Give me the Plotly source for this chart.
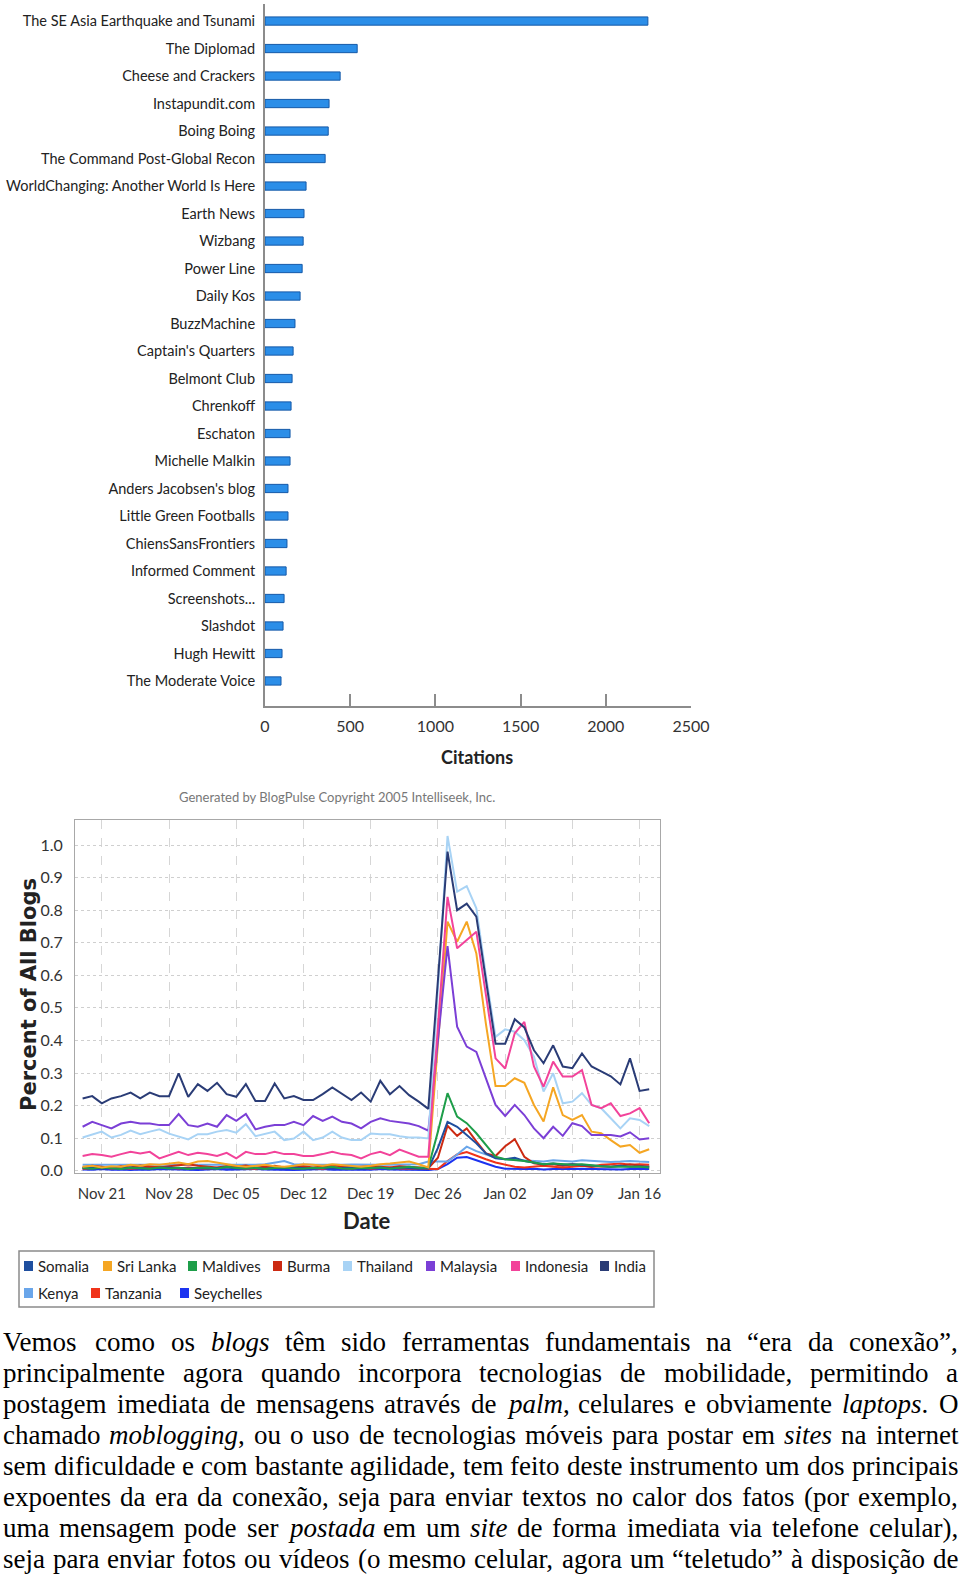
import unicodedata
import pandas as pd
import plotly.graph_objects as go

W, H = 960, 1574


def px(x):
    return x / W


def py(y):
    return 1 - y / H


NARROW = "Lato, Roboto, sans-serif"
SERIF = "Liberation Serif, Times New Roman, serif"

# ---------------- bar chart data ----------------
blogs = [
    "The SE Asia Earthquake and Tsunami", "The Diplomad", "Cheese and Crackers",
    "Instapundit.com", "Boing Boing", "The Command Post-Global Recon",
    "WorldChanging: Another World Is Here", "Earth News", "Wizbang", "Power Line",
    "Daily Kos", "BuzzMachine", "Captain's Quarters", "Belmont Club", "Chrenkoff",
    "Eschaton", "Michelle Malkin", "Anders Jacobsen's blog", "Little Green Footballs",
    "ChiensSansFrontiers", "Informed Comment", "Screenshots...", "Slashdot",
    "Hugh Hewitt", "The Moderate Voice",
]
citations = [2247, 541, 441, 376, 371, 353, 241, 229, 224, 218, 206, 176, 165,
             159, 153, 147, 147, 135, 135, 129, 124, 112, 106, 100, 94]
citation_ticks = [0, 500, 1000, 1500, 2000, 2500]

# ---------------- line chart data ----------------
dates = pd.date_range("2004-11-19", periods=60, freq="D")
date_ticks = pd.date_range("2004-11-21", periods=9, freq="7D")
pct_ticks = [0.0, 0.1, 0.2, 0.3, 0.4, 0.5, 0.6, 0.7, 0.8, 0.9, 1.0]

somalia = [0.008, 0.010, 0.006, 0.009, 0.007, 0.010, 0.008, 0.006, 0.009, 0.010,
           0.008, 0.007, 0.009, 0.006, 0.008, 0.010, 0.007, 0.009, 0.008, 0.006,
           0.009, 0.007, 0.010, 0.008, 0.006, 0.009, 0.007, 0.008, 0.010, 0.006,
           0.008, 0.009, 0.007, 0.010, 0.008, 0.006, 0.007, 0.070, 0.150, 0.135,
           0.110, 0.084, 0.053, 0.038, 0.035, 0.040, 0.030, 0.025, 0.020, 0.022,
           0.018, 0.020, 0.018, 0.015, 0.015, 0.012, 0.015, 0.012, 0.013, 0.012]
sri_lanka = [0.012, 0.015, 0.010, 0.014, 0.012, 0.018, 0.015, 0.020, 0.018, 0.022,
             0.025, 0.020, 0.028, 0.030, 0.025, 0.018, 0.015, 0.012, 0.015, 0.018,
             0.014, 0.012, 0.015, 0.020, 0.018, 0.015, 0.020, 0.018, 0.015, 0.012,
             0.015, 0.020, 0.022, 0.025, 0.028, 0.020, 0.010, 0.390, 0.765, 0.703,
             0.765, 0.667, 0.450, 0.260, 0.260, 0.284, 0.270, 0.202, 0.151, 0.256,
             0.171, 0.156, 0.171, 0.120, 0.115, 0.094, 0.074, 0.079, 0.055, 0.066]
maldives = [0.008, 0.006, 0.010, 0.007, 0.005, 0.009, 0.008, 0.006, 0.010, 0.007,
            0.009, 0.005, 0.008, 0.010, 0.006, 0.012, 0.008, 0.007, 0.009, 0.005,
            0.008, 0.010, 0.007, 0.006, 0.009, 0.008, 0.012, 0.007, 0.006, 0.009,
            0.008, 0.010, 0.006, 0.008, 0.012, 0.009, 0.010, 0.120, 0.238, 0.166,
            0.146, 0.115, 0.079, 0.043, 0.035, 0.033, 0.030, 0.025, 0.020, 0.022,
            0.020, 0.018, 0.020, 0.016, 0.014, 0.012, 0.012, 0.014, 0.012, 0.010]
burma = [0.010, 0.015, 0.012, 0.008, 0.014, 0.010, 0.016, 0.012, 0.010, 0.014,
         0.018, 0.020, 0.015, 0.012, 0.010, 0.014, 0.012, 0.016, 0.010, 0.012,
         0.015, 0.010, 0.012, 0.014, 0.010, 0.012, 0.016, 0.014, 0.010, 0.012,
         0.014, 0.012, 0.010, 0.014, 0.012, 0.010, 0.008, 0.040, 0.138, 0.107,
         0.130, 0.090, 0.053, 0.045, 0.075, 0.097, 0.043, 0.023, 0.018, 0.020,
         0.015, 0.020, 0.015, 0.012, 0.014, 0.012, 0.015, 0.020, 0.015, 0.012]
thailand = [0.102, 0.110, 0.120, 0.102, 0.110, 0.123, 0.112, 0.120, 0.127, 0.114,
            0.106, 0.096, 0.112, 0.112, 0.120, 0.125, 0.117, 0.143, 0.106, 0.112,
            0.120, 0.094, 0.099, 0.120, 0.094, 0.102, 0.120, 0.102, 0.094, 0.094,
            0.114, 0.112, 0.112, 0.106, 0.102, 0.102, 0.099, 0.560, 1.028, 0.857,
            0.874, 0.806, 0.600, 0.411, 0.434, 0.427, 0.401, 0.350, 0.243, 0.299,
            0.207, 0.212, 0.238, 0.202, 0.192, 0.161, 0.130, 0.161, 0.156, 0.137]
malaysia = [0.135, 0.150, 0.140, 0.130, 0.145, 0.150, 0.145, 0.145, 0.140, 0.140,
            0.174, 0.140, 0.135, 0.145, 0.135, 0.171, 0.153, 0.174, 0.127, 0.135,
            0.140, 0.140, 0.150, 0.140, 0.168, 0.153, 0.166, 0.150, 0.145, 0.130,
            0.150, 0.161, 0.153, 0.150, 0.145, 0.137, 0.123, 0.400, 0.690, 0.442,
            0.381, 0.365, 0.280, 0.202, 0.168, 0.202, 0.171, 0.130, 0.100, 0.135,
            0.107, 0.146, 0.137, 0.110, 0.110, 0.110, 0.105, 0.118, 0.096, 0.100]
indonesia = [0.045, 0.051, 0.048, 0.043, 0.051, 0.058, 0.053, 0.058, 0.038, 0.048,
             0.058, 0.048, 0.055, 0.051, 0.045, 0.055, 0.038, 0.058, 0.051, 0.051,
             0.058, 0.051, 0.051, 0.045, 0.045, 0.051, 0.058, 0.051, 0.048, 0.038,
             0.051, 0.058, 0.048, 0.065, 0.055, 0.043, 0.043, 0.440, 0.841, 0.683,
             0.708, 0.734, 0.540, 0.345, 0.314, 0.422, 0.457, 0.320, 0.258, 0.335,
             0.289, 0.289, 0.309, 0.202, 0.192, 0.207, 0.168, 0.176, 0.192, 0.146]
india = [0.222, 0.229, 0.207, 0.222, 0.229, 0.240, 0.222, 0.240, 0.229, 0.229,
         0.299, 0.227, 0.266, 0.245, 0.270, 0.235, 0.227, 0.266, 0.214, 0.214,
         0.268, 0.222, 0.229, 0.217, 0.217, 0.235, 0.256, 0.237, 0.217, 0.240,
         0.212, 0.276, 0.235, 0.260, 0.232, 0.212, 0.190, 0.585, 0.980, 0.800,
         0.820, 0.780, 0.585, 0.390, 0.390, 0.465, 0.440, 0.370, 0.330, 0.385,
         0.320, 0.315, 0.360, 0.320, 0.305, 0.290, 0.265, 0.345, 0.245, 0.250]
kenya = [0.018, 0.018, 0.019, 0.018, 0.018, 0.017, 0.018, 0.018, 0.019, 0.018,
         0.018, 0.018, 0.017, 0.018, 0.018, 0.019, 0.018, 0.018, 0.018, 0.020,
         0.024, 0.030, 0.020, 0.018, 0.018, 0.018, 0.017, 0.018, 0.019, 0.018,
         0.018, 0.018, 0.018, 0.019, 0.018, 0.020, 0.028, 0.028, 0.028, 0.050,
         0.074, 0.060, 0.050, 0.040, 0.035, 0.033, 0.030, 0.030, 0.028, 0.032,
         0.030, 0.028, 0.032, 0.030, 0.028, 0.027, 0.028, 0.030, 0.028, 0.027]
tanzania = [0.006, 0.008, 0.010, 0.007, 0.009, 0.006, 0.008, 0.010, 0.012, 0.009,
            0.007, 0.010, 0.008, 0.006, 0.009, 0.011, 0.008, 0.007, 0.006, 0.009,
            0.008, 0.010, 0.007, 0.009, 0.008, 0.006, 0.010, 0.008, 0.007, 0.009,
            0.006, 0.008, 0.010, 0.007, 0.006, 0.005, 0.004, 0.005, 0.030, 0.050,
            0.057, 0.045, 0.035, 0.025, 0.018, 0.012, 0.010, 0.012, 0.015, 0.012,
            0.010, 0.012, 0.015, 0.012, 0.018, 0.020, 0.022, 0.018, 0.020, 0.018]
seychelles = [0.004, 0.003, 0.005, 0.003, 0.004, 0.002, 0.004, 0.003, 0.005, 0.004,
              0.003, 0.004, 0.002, 0.004, 0.005, 0.003, 0.004, 0.003, 0.005, 0.004,
              0.003, 0.004, 0.002, 0.003, 0.004, 0.005, 0.003, 0.004, 0.003, 0.004,
              0.003, 0.005, 0.004, 0.003, 0.004, 0.003, 0.002, 0.005, 0.020, 0.040,
              0.042, 0.032, 0.022, 0.012, 0.006, 0.005, 0.005, 0.006, 0.004, 0.005,
              0.004, 0.005, 0.006, 0.005, 0.004, 0.005, 0.004, 0.005, 0.004, 0.005]

series_names = ["Somalia", "Sri Lanka", "Maldives", "Burma", "Thailand", "Malaysia",
                "Indonesia", "India", "Kenya", "Tanzania", "Seychelles"]
series_values = [somalia, sri_lanka, maldives, burma, thailand, malaysia,
                 indonesia, india, kenya, tanzania, seychelles]
series_colors = ["#1f4f9f", "#f5a623", "#1e9e4a", "#cc2a12", "#a8d3f5", "#7b3fd6",
                 "#f2439a", "#2a3c76", "#6aa6ea", "#f0331a", "#1c33f0"]
draw_order = ["Seychelles", "Tanzania", "Kenya", "Burma", "Somalia", "Maldives",
              "Sri Lanka", "Malaysia", "Thailand", "Indonesia", "India"]

paragraph_lines = [
    "Vemos como os *blogs* têm sido ferramentas fundamentais na “era da conexão”,",
    "principalmente agora quando incorpora tecnologias de mobilidade, permitindo a",
    "postagem imediata de mensagens através de *palm*, celulares e obviamente *laptops*. O",
    "chamado *moblogging*, ou o uso de tecnologias móveis para postar em *sites* na internet",
    "sem dificuldade e com bastante agilidade, tem feito deste instrumento um dos principais",
    "expoentes da era da conexão, seja para enviar textos no calor dos fatos (por exemplo,",
    "uma mensagem pode ser *postada* em um *site* de forma imediata via telefone celular),",
    "seja para enviar fotos ou vídeos (o mesmo celular, agora um “teletudo” à disposição de",
]

fig = go.Figure()

# ---------------- bar chart ----------------
fig.add_trace(go.Bar(
    x=citations, y=blogs, orientation="h", width=0.3,
    marker=dict(color="#2b8ee8", line=dict(color="#1559a8", width=1)),
    xaxis="x", yaxis="y", showlegend=False,
))

# ---------------- line chart ----------------
for name in draw_order:
    i = series_names.index(name)
    fig.add_trace(go.Scatter(
        x=dates, y=series_values[i], mode="lines", name=name,
        line=dict(color=series_colors[i], width=2),
        xaxis="x2", yaxis="y2", showlegend=False,
    ))

annotations = []
shapes = []


def note(x, y, text, font, **kw):
    d = dict(x=px(x), y=py(y), xref="paper", yref="paper", text=text,
             showarrow=False, font=font, xanchor="center", yanchor="middle")
    d.update(kw)
    annotations.append(d)


# Axis titles & captions
note(477, 757, "<b>Citations</b>", dict(family=NARROW, size=18, color="#222"))
note(337, 797, "Generated by BlogPulse Copyright 2005 Intelliseek, Inc.",
     dict(family=NARROW, size=13, color="#777"))
note(367, 1220, "<b>Date</b>", dict(family=NARROW, size=22, color="#222"))
note(29, 995, "<b>Percent of All Blogs</b>", dict(family="DejaVu Sans", size=21, color="#222"),
     textangle=-90)

# Legend (box + swatches + labels)
shapes.append(dict(type="rect", xref="paper", yref="paper", x0=px(19), x1=px(654),
                   y0=py(1307), y1=py(1251), line=dict(color="#8a8a8a", width=1.5),
                   fillcolor="rgba(0,0,0,0)"))
legend_rows_y = [1266, 1293]
legend_slots = [(0, 24), (0, 103), (0, 188), (0, 273), (0, 343), (0, 426), (0, 511),
                (0, 600), (1, 24), (1, 91), (1, 180)]
for (row, x0), name, color in zip(legend_slots, series_names, series_colors):
    yc = legend_rows_y[row]
    shapes.append(dict(type="rect", xref="paper", yref="paper", x0=px(x0), x1=px(x0 + 9),
                       y0=py(yc + 5), y1=py(yc - 5), line=dict(width=0), fillcolor=color))
    note(x0 + 12, yc, name, dict(family=NARROW, size=15, color="#222"), xanchor="left")

# Paragraph text (justified word by word)
FS = 27
ROMAN = {' ': 250, 'a': 444, 'b': 500, 'c': 444, 'd': 500, 'e': 444, 'f': 333, 'g': 500,
         'h': 500, 'i': 278, 'j': 278, 'k': 500, 'l': 278, 'm': 778, 'n': 500, 'o': 500,
         'p': 500, 'q': 500, 'r': 333, 's': 389, 't': 278, 'u': 500, 'v': 500, 'w': 722,
         'x': 500, 'y': 500, 'z': 444, 'V': 722, 'O': 722, ',': 250, '.': 250, '(': 333,
         ')': 333, '“': 444, '”': 444}
ITALIC = {'a': 500, 'b': 500, 'c': 444, 'd': 500, 'e': 444, 'f': 278, 'g': 500, 'h': 500,
          'i': 278, 'j': 278, 'k': 444, 'l': 278, 'm': 722, 'n': 500, 'o': 500, 'p': 500,
          'q': 500, 'r': 389, 's': 389, 't': 278, 'u': 500, 'v': 444, 'w': 667, 'x': 444,
          'y': 444, 'z': 389}


def seg_width(text, italic):
    table = ITALIC if italic else ROMAN
    total = 0
    for ch in text:
        base = unicodedata.normalize("NFD", ch)[0]
        total += table.get(base, ROMAN.get(base, 500))
    return total / 1000 * FS


def parse_word(word):
    parts = word.split("*")
    return [(p, k % 2 == 1) for k, p in enumerate(parts) if p]


LEFT, RIGHT = 2, 957
for li, line in enumerate(paragraph_lines):
    yc = 1342 + 31 * li
    words = [parse_word(w) for w in line.split(" ")]
    widths = [sum(seg_width(t, it) for t, it in segs) for segs in words]
    gap = (RIGHT - LEFT - sum(widths)) / (len(words) - 1)
    x = LEFT
    for segs, wd in zip(words, widths):
        html = "".join(f"<i>{t}</i>" if it else t for t, it in segs)
        note(x, yc, html, dict(family=SERIF, size=FS, color="#000"),
             xanchor="left", borderpad=0)
        x += wd + gap

fig.update_layout(
    width=W, height=H,
    margin=dict(l=0, r=0, t=0, b=0, pad=0),
    paper_bgcolor="white", plot_bgcolor="white",
    xaxis=dict(domain=[px(265), px(691)], range=[0, 2500], anchor="y", automargin=False,
               showline=True, linecolor="#8c8c8c", linewidth=2,
               ticks="inside", ticklen=12, tickwidth=2, tickcolor="#8c8c8c",
               tickvals=citation_ticks, ticklabelstandoff=5,
               tickfont=dict(family=NARROW, size=16, color="#333"),
               showgrid=False, zeroline=False),
    yaxis=dict(domain=[py(706), py(4)], type="category", range=[24.91, -0.62],
               anchor="x", automargin=False, showline=True, linecolor="#8c8c8c",
               linewidth=2, ticks="", ticklabelstandoff=5,
               tickfont=dict(family=NARROW, size=14.5, color="#222"),
               showgrid=False, zeroline=False),
    xaxis2=dict(domain=[px(75), px(660)], type="date", automargin=False,
                range=["2004-11-18 05:00", "2005-01-18 03:00"], anchor="y2",
                showline=True, mirror=True, linecolor="#a8a8a8", linewidth=1,
                showgrid=True, gridcolor="#d6d6d6", griddash="dash",
                tickvals=list(date_ticks), tickformat="%b %d",
                ticks="outside", ticklen=4, tickcolor="#999", ticklabelstandoff=3,
                tickfont=dict(family=NARROW, size=15, color="#333"), zeroline=False),
    yaxis2=dict(domain=[py(1172.5), py(820)], range=[-0.0055, 1.077], anchor="x2",
                automargin=False, showline=True, mirror=True, linecolor="#a8a8a8",
                linewidth=1, showgrid=True, gridcolor="#cfcfcf", griddash="dot",
                tickvals=pct_ticks, tickformat=".1f", ticks="", ticklabelstandoff=8,
                tickfont=dict(family=NARROW, size=16, color="#333"), zeroline=False),
    annotations=annotations,
    shapes=shapes,
    showlegend=False,
)

fig.write_html(
    "out.html",
    config={"displayModeBar": False},
    post_script="document.body.style.margin='0';document.body.style.overflow='hidden';",
)
